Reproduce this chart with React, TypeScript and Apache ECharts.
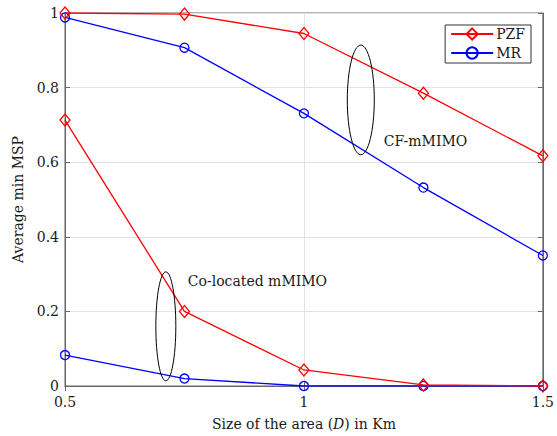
import React, { useEffect, useRef } from "react";
import * as echarts from "echarts";

const areaSizes = [0.5, 0.75, 1, 1.25, 1.5];
const pzfCF = [1.0, 0.997, 0.945, 0.785, 0.617];
const mrCF = [0.988, 0.907, 0.731, 0.532, 0.35];
const pzfCoLocated = [0.713, 0.2, 0.043, 0.003, 0.0];
const mrCoLocated = [0.083, 0.02, 0.0, 0.0, 0.0];
const xTickLabels = ["0.5", "1", "1.5"];
const yTickLabels = ["0", "0.2", "0.4", "0.6", "0.8", "1"];

// annotation anchors in data units
const coLocatedEllipse = { x: 0.711, y: 0.16, ry: 0.146 };
const cfEllipse = { x: 1.119, y: 0.767, ry: 0.147 };
const coLocatedLabel = { x: 0.757, y: 0.282, text: "Co-located mMIMO" };
const cfLabel = { x: 1.167, y: 0.656, text: "CF-mMIMO" };

const FONT = "DejaVu Serif";
const TXT = "#1a1a1a";

function pairs(ys: number[]) {
  return areaSizes.map((x, i) => [x, ys[i]]);
}

export default function App() {
  const ref = useRef<HTMLDivElement>(null);
  useEffect(() => {
    if (!ref.current) return;
    const chart = echarts.init(ref.current, undefined, { renderer: "svg" });
    const pzfStyle = {
      type: "line" as const,
      name: "PZF",
      symbol: "diamond",
      symbolSize: [10, 12],
      lineStyle: { color: "#ff0000", width: 1.3 },
      itemStyle: { color: "rgba(0,0,0,0)", borderColor: "#ff0000", borderWidth: 1.3 },
      z: 3,
    };
    const mrStyle = {
      type: "line" as const,
      name: "MR",
      symbol: "circle",
      symbolSize: 9,
      lineStyle: { color: "#0000ff", width: 1.3 },
      itemStyle: { color: "rgba(0,0,0,0)", borderColor: "#0000ff", borderWidth: 1.3 },
      z: 2,
    };
    const axisLine = { show: true, lineStyle: { color: "#666", width: 1 } };
    chart.setOption({
      animation: false,
      backgroundColor: "#fff",
      textStyle: { fontFamily: FONT, color: TXT },
      grid: {
        left: 65,
        right: 14,
        top: 13,
        bottom: 46,
        show: true,
        borderColor: "#666",
        borderWidth: 1,
      },
      legend: {
        orient: "vertical",
        right: 26,
        top: 25,
        data: ["PZF", "MR"],
        itemWidth: 42,
        itemHeight: 14,
        itemGap: 5,
        padding: [2, 6, 3, 5],
        borderColor: "#333",
        borderWidth: 1,
        backgroundColor: "#fff",
        textStyle: { fontFamily: FONT, fontSize: 14, color: TXT, padding: [0, 0, 0, -2] },
      },
      xAxis: [
        {
          type: "value",
          min: 0.5,
          max: 1.5,
          interval: 0.5,
          axisLine,
          axisTick: { inside: true, length: 5, lineStyle: { color: "#666" } },
          axisLabel: {
            fontFamily: FONT,
            fontSize: 14,
            color: TXT,
            margin: 9,
            formatter: (v: number) => xTickLabels[Math.round((v - 0.5) / 0.5)] ?? "",
          },
          splitLine: { show: true, lineStyle: { color: "#e3e3e3" } },
          name: "Size of the area ({i|D}) in Km",
          nameLocation: "middle",
          nameGap: 31,
          nameTextStyle: {
            fontFamily: FONT,
            fontSize: 14,
            color: TXT,
            rich: { i: { fontStyle: "italic", fontFamily: FONT, fontSize: 14, color: TXT } },
          },
        },
        {
          type: "value",
          position: "top",
          min: 0.5,
          max: 1.5,
          interval: 0.5,
          axisLine,
          axisTick: { inside: true, length: 5, lineStyle: { color: "#666" } },
          axisLabel: { show: false },
          splitLine: { show: false },
        },
      ],
      yAxis: [
        {
          type: "value",
          min: 0,
          max: 1,
          interval: 0.2,
          axisLine,
          axisTick: { show: true, inside: true, length: 5, lineStyle: { color: "#666" } },
          axisLabel: {
            fontFamily: FONT,
            fontSize: 14,
            color: TXT,
            margin: 6,
            formatter: (v: number) => yTickLabels[Math.round(v / 0.2)] ?? "",
          },
          splitLine: { show: true, lineStyle: { color: "#e3e3e3" } },
          name: "Average min MSP",
          nameLocation: "middle",
          nameGap: 40,
          nameTextStyle: { fontFamily: FONT, fontSize: 14, color: TXT },
        },
        {
          type: "value",
          position: "right",
          min: 0,
          max: 1,
          interval: 0.2,
          axisLine,
          axisTick: { show: true, inside: true, length: 5, lineStyle: { color: "#666" } },
          axisLabel: { show: false },
          splitLine: { show: false },
        },
      ],
      series: [
        { ...mrStyle, data: pairs(mrCF) },
        { ...mrStyle, data: pairs(mrCoLocated) },
        { ...pzfStyle, data: pairs(pzfCF) },
        { ...pzfStyle, data: pairs(pzfCoLocated) },
      ],
    });

    const px = (x: number, y: number) =>
      chart.convertToPixel({ xAxisIndex: 0, yAxisIndex: 0 }, [x, y]) as number[];
    const ellipse = (e: { x: number; y: number; ry: number }, rx: number) => {
      const c = px(e.x, e.y);
      const t = px(e.x, e.y + e.ry);
      return {
        type: "ellipse",
        shape: { cx: c[0], cy: c[1], rx, ry: c[1] - t[1] },
        style: { fill: "none", stroke: "#000", lineWidth: 1 },
        z: 10,
      };
    };
    const label = (l: { x: number; y: number; text: string }) => {
      const p = px(l.x, l.y);
      return {
        type: "text",
        x: p[0],
        y: p[1],
        style: {
          text: l.text,
          fontFamily: FONT,
          fontSize: 14,
          fill: TXT,
          textAlign: "left",
          textVerticalAlign: "middle",
        },
        z: 10,
      };
    };
    chart.setOption({
      graphic: [
        ellipse(coLocatedEllipse, 10),
        ellipse(cfEllipse, 13.5),
        label(coLocatedLabel),
        label(cfLabel),
      ],
    });
    return () => chart.dispose();
  }, []);
  return <div ref={ref} style={{ width: 557, height: 436, position: "absolute", left: 0, top: 0 }} />;
}
